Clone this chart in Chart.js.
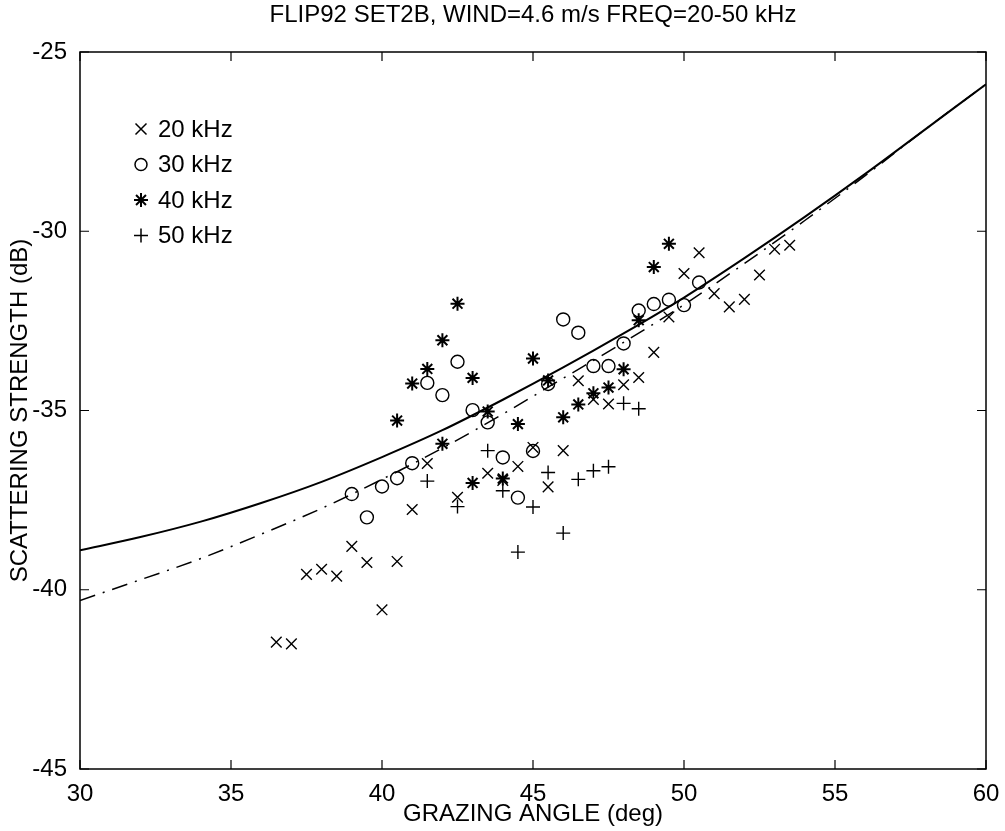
<!DOCTYPE html>
<html>
<head>
<meta charset="utf-8">
<title>FLIP92 SET2B</title>
<script src="https://cdn.jsdelivr.net/npm/chart.js@4/dist/chart.umd.min.js"></script>
<style>
  html, body { margin: 0; padding: 0; background: #fff; }
  #wrap { width: 1005px; height: 831px; }
</style>
</head>
<body>
<div id="wrap"><canvas id="flipChart" width="1005" height="831"></canvas></div>
<script>
// 20 kHz (x markers)
const angles20 = [36.5, 37, 37.5, 38, 38.5, 39, 39.5, 40, 40.5, 41, 41.5, 42.5, 43.5, 44, 44.5, 45, 45.5, 46,
                  46.5, 47, 47.5, 48, 48.5, 49, 49.5, 50, 50.5, 51, 51.5, 52, 52.5, 53, 53.5];
const ss20 = [-41.46, -41.51, -39.57, -39.43, -39.62, -38.79, -39.24, -40.56, -39.21, -37.76, -36.48, -37.42, -36.75, -36.95, -36.56, -36.03, -37.13, -36.12,
              -34.17, -34.69, -34.82, -34.28, -34.08, -33.38, -32.39, -31.18, -30.6, -31.74, -32.11, -31.9, -31.22, -30.5, -30.39];

// 30 kHz (circles)
const angles30 = [39, 39.5, 40, 40.5, 41, 41.5, 42, 42.5, 43, 43.5, 44, 44.5, 45, 45.5, 46, 46.5, 47, 47.5, 48, 48.5, 49, 49.5, 50, 50.5];
const ss30 = [-37.33, -37.98, -37.12, -36.89, -36.47, -34.23, -34.57, -33.64, -34.99, -35.33, -36.31, -37.43, -36.13, -34.26,
              -32.46, -32.83, -33.76, -33.76, -33.13, -32.21, -32.03, -31.91, -32.06, -31.43];

// 40 kHz (stars)
const angles40 = [40.5, 41, 41.5, 42, 42, 42.5, 43, 43, 43.5, 44, 44.5, 45, 45.5, 46, 46.5, 47, 47.5, 48, 48.5, 49, 49.5];
const ss40 = [-35.28, -34.25, -33.84, -35.93, -33.04, -32.02, -34.09, -37.02, -35.03, -36.9, -35.38, -33.55, -34.16,
              -35.19, -34.83, -34.52, -34.36, -33.85, -32.48, -31.0, -30.35];

// 50 kHz (plus)
const angles50 = [41.5, 42.5, 43.5, 44, 44.5, 45, 45.5, 46, 46.5, 47, 47.5, 48, 48.5];
const ss50 = [-36.97, -37.68, -36.12, -37.24, -38.95, -37.69, -36.73, -38.42, -36.92, -36.68, -36.57, -34.8, -34.95];

const curveAngles = [30, 32, 34, 36, 38, 40, 42, 44, 46, 48, 50, 52, 54, 56, 58, 60];
const solidCurve = [-38.9, -38.53, -38.1, -37.58, -36.99, -36.3, -35.55, -34.7, -33.8, -32.85, -31.85, -30.75, -29.6, -28.4, -27.15, -25.9];
const dashCurve = [-40.3, -39.72, -39.13, -38.45, -37.73, -36.92, -36.05, -35.1, -34.1, -33.1, -32.05, -30.9, -29.7, -28.45, -27.15, -25.9];

const xTicks = [30, 35, 40, 45, 50, 55, 60];
const yTicks = [-45, -40, -35, -30, -25];
const seriesLabels = ['20 kHz', '30 kHz', '40 kHz', '50 kHz'];

const chartTitle = 'FLIP92 SET2B, WIND=4.6 m/s FREQ=20-50 kHz';
const FONT = '"Liberation Sans", Arial, Helvetica, sans-serif';

const toPoints = (xs, ys) => xs.map((x, i) => ({ x: x, y: ys[i] }));

const markerDataset = (label, xs, ys, style, radius, width) => ({
    type: 'scatter',
    label: label,
    data: toPoints(xs, ys),
    pointStyle: style,
    pointRadius: radius,
    pointHoverRadius: radius,
    pointBorderWidth: width,
    borderColor: '#000',
    backgroundColor: 'rgba(0,0,0,0)',
    showLine: false
});

// draw a small legend symbol by hand
function drawSymbol(ctx, kind, x, y) {
    ctx.save();
    ctx.strokeStyle = '#000';
    ctx.lineWidth = 1.5;
    ctx.beginPath();
    if (kind === 'crossRot') {
        const r = 5.5;
        ctx.moveTo(x - r, y - r); ctx.lineTo(x + r, y + r);
        ctx.moveTo(x - r, y + r); ctx.lineTo(x + r, y - r);
    } else if (kind === 'circle') {
        ctx.arc(x, y, 6, 0, Math.PI * 2);
    } else if (kind === 'star') {
        ctx.lineWidth = 2;
        const r = 7;
        for (let k = 0; k < 4; k++) {
            const a = k * Math.PI / 4;
            ctx.moveTo(x - Math.cos(a) * r, y - Math.sin(a) * r);
            ctx.lineTo(x + Math.cos(a) * r, y + Math.sin(a) * r);
        }
    } else {
        const r = 7;
        ctx.moveTo(x - r, y); ctx.lineTo(x + r, y);
        ctx.moveTo(x, y - r); ctx.lineTo(x, y + r);
    }
    ctx.stroke();
    ctx.restore();
}

// box, inward ticks, title and in-plot legend (MATLAB look)
const framePlugin = {
    id: 'frame',
    afterDraw(chart) {
        const { ctx, chartArea: a, scales } = chart;
        ctx.save();
        ctx.strokeStyle = '#000';
        ctx.lineWidth = 1.5;
        ctx.strokeRect(a.left, a.top, a.right - a.left, a.bottom - a.top);

        const tl = 9;
        ctx.lineWidth = 1.2;
        ctx.beginPath();
        xTicks.forEach(v => {
            const px = scales.x.getPixelForValue(v);
            ctx.moveTo(px, a.bottom); ctx.lineTo(px, a.bottom - tl);
            ctx.moveTo(px, a.top); ctx.lineTo(px, a.top + tl);
        });
        yTicks.forEach(v => {
            const py = scales.y.getPixelForValue(v);
            ctx.moveTo(a.left, py); ctx.lineTo(a.left + tl, py);
            ctx.moveTo(a.right, py); ctx.lineTo(a.right - tl, py);
        });
        ctx.stroke();

        ctx.fillStyle = '#000';
        ctx.font = '24px ' + FONT;
        ctx.textAlign = 'center';
        ctx.textBaseline = 'middle';
        ctx.fillText(chartTitle, (a.left + a.right) / 2, 15);

        const styles = ['crossRot', 'circle', 'star', 'cross'];
        ctx.textAlign = 'left';
        seriesLabels.forEach((lab, i) => {
            const y = 129 + i * 35.5;
            drawSymbol(ctx, styles[i], 141, y);
            ctx.fillStyle = '#000';
            ctx.fillText(lab, 158, y + 1);
        });
        ctx.restore();
    }
};

new Chart(document.getElementById('flipChart'), {
    data: {
        datasets: [
            {
                type: 'line',
                label: 'model',
                data: toPoints(curveAngles, solidCurve),
                borderColor: '#000',
                borderWidth: 2,
                pointRadius: 0,
                fill: false,
                cubicInterpolationMode: 'monotone'
            },
            {
                type: 'line',
                label: 'model 2',
                data: toPoints(curveAngles, dashCurve),
                borderColor: '#000',
                borderWidth: 1.5,
                borderDash: [16, 8, 2, 8],
                pointRadius: 0,
                fill: false,
                cubicInterpolationMode: 'monotone'
            },
            markerDataset(seriesLabels[0], angles20, ss20, 'crossRot', 7.5, 1.4),
            markerDataset(seriesLabels[1], angles30, ss30, 'circle', 6.5, 1.4),
            markerDataset(seriesLabels[2], angles40, ss40, 'star', 7, 2),
            markerDataset(seriesLabels[3], angles50, ss50, 'cross', 7, 1.4)
        ]
    },
    options: {
        responsive: false,
        animation: false,
        devicePixelRatio: 1,
        layout: { padding: { top: 52, right: 19, bottom: 0, left: 0 } },
        plugins: {
            legend: { display: false },
            title: { display: false },
            tooltip: { enabled: false }
        },
        scales: {
            x: {
                type: 'linear',
                min: 30,
                max: 60,
                grid: { display: false },
                border: { display: false },
                afterFit: s => { s.height = 62; },
                afterBuildTicks: s => { s.ticks = xTicks.map(v => ({ value: v })); },
                ticks: { color: '#000', padding: 3, maxRotation: 0, autoSkip: false, font: { family: FONT, size: 24 } },
                title: {
                    display: true,
                    text: 'GRAZING ANGLE (deg)',
                    color: '#000',
                    font: { family: FONT, size: 24 },
                    padding: { top: 0, bottom: 2 }
                }
            },
            y: {
                type: 'linear',
                min: -45,
                max: -25,
                grid: { display: false },
                border: { display: false },
                afterFit: s => { s.width = 80; },
                afterBuildTicks: s => { s.ticks = yTicks.map(v => ({ value: v })); },
                ticks: { color: '#000', padding: 5, autoSkip: false, font: { family: FONT, size: 24 } },
                title: {
                    display: true,
                    text: 'SCATTERING STRENGTH (dB)',
                    color: '#000',
                    font: { family: FONT, size: 24 },
                    padding: { top: 6, bottom: 0 }
                }
            }
        }
    },
    plugins: [framePlugin]
});
</script>
</body>
</html>
